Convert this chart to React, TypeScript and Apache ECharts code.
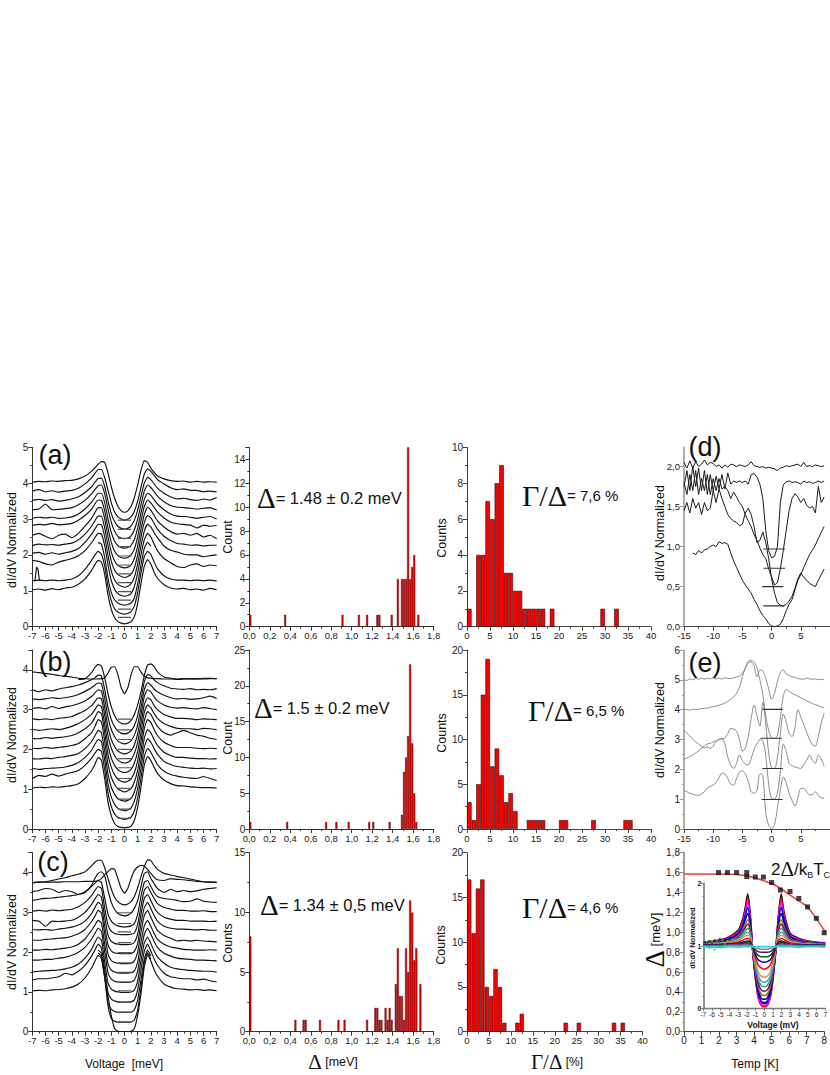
import React, { useEffect, useRef } from "react";
import * as echarts from "echarts";

// ---------- voltage grids ----------
const voltsABC = [-7,-6.5,-6,-5.5,-5,-4.5,-4,-3.5,-3,-2.5,-2.25,-2,-1.75,-1.5,-1.25,-1,-0.75,-0.5,-0.25,0,0.25,0.5,0.75,1,1.25,1.5,1.75,2,2.25,2.5,3,3.5,4,4.5,5,5.5,6,6.5,7];
const voltsDE = [-15,-14.5,-14,-13.5,-13,-12.5,-12,-11.5,-11,-10.5,-10,-9.5,-9,-8.5,-8,-7.5,-7,-6.5,-6,-5.5,-5,-4.5,-4,-3.5,-3,-2.5,-2,-1.5,-1,-0.5,0,0.5,1,1.5,2,2.5,3,3.5,4,4.5,5,5.5,6,6.5,7,7.5,8,8.5,9];
const voltsInset = [-7,-6,-5,-4,-3,-2.5,-2.2,-1.9,-1.6,-1.3,-1,-0.7,-0.35,0,0.35,0.7,1,1.3,1.6,1.95,2.2,2.5,3,4,5,6,7];
const _ = null;

// ---------- panel (a) ----------
const curvesA = [
[4.03,4.05,4.04,4.06,4.05,4.07,4.08,4.12,4.2,4.33,4.43,4.53,4.6,4.58,4.28,3.9,3.58,3.36,3.23,3.19,3.23,3.36,3.6,3.95,4.35,4.63,4.58,4.42,4.3,4.2,4.12,4.07,4.05,4.06,4.03,4.05,4.03,4.04,4.03],
[3.78,3.82,3.76,3.79,3.75,3.78,3.8,3.86,3.98,4.15,4.27,4.38,4.38,4.15,3.8,3.45,3.2,3.06,3.0,2.97,3.0,3.06,3.22,3.5,3.88,4.25,4.4,4.33,4.22,4.1,3.98,3.87,3.82,3.84,3.8,3.8,3.76,3.78,3.76],
[3.52,3.55,3.52,3.54,3.5,3.52,3.56,3.62,3.74,3.9,4.02,4.13,4.14,3.9,3.5,3.15,2.93,2.8,2.74,2.72,2.74,2.81,2.97,3.25,3.63,4.0,4.16,4.1,3.98,3.86,3.72,3.62,3.56,3.58,3.54,3.52,3.56,3.53,3.6],
[3.26,3.28,3.42,3.26,3.27,3.29,3.32,3.4,3.52,3.7,3.82,3.93,3.95,3.7,3.28,2.9,2.66,2.52,2.47,2.45,2.47,2.53,2.7,3.0,3.4,3.78,3.95,3.88,3.76,3.64,3.48,3.38,3.33,3.32,3.3,3.28,3.3,3.32,3.25],
[3.02,3.05,3.03,3.05,3.02,3.03,3.06,3.14,3.28,3.47,3.6,3.72,3.72,3.45,3.0,2.62,2.38,2.26,2.21,2.19,2.21,2.27,2.43,2.75,3.17,3.55,3.72,3.66,3.54,3.42,3.26,3.14,3.08,3.07,3.05,3.02,3.05,3.07,3.0],
[2.82,2.85,2.84,2.88,2.84,2.85,2.88,2.97,3.1,3.28,3.42,3.53,3.52,3.22,2.75,2.35,2.1,1.98,1.93,1.91,1.93,2.0,2.17,2.5,2.95,3.35,3.53,3.45,3.33,3.2,3.03,2.92,2.87,2.85,2.83,2.75,2.83,2.8,2.82],
[2.55,2.6,2.52,2.45,2.55,2.58,2.48,2.6,2.8,3.02,3.18,3.32,3.32,3.0,2.5,2.08,1.83,1.71,1.66,1.64,1.66,1.72,1.9,2.25,2.72,3.12,3.33,3.25,3.1,2.95,2.78,2.65,2.58,2.6,2.55,2.6,2.5,2.55,2.45],
[2.26,2.3,2.28,2.29,2.27,2.3,2.33,2.42,2.58,2.8,2.95,3.08,3.08,2.75,2.25,1.82,1.57,1.45,1.4,1.37,1.4,1.46,1.64,2.0,2.5,2.9,3.1,3.03,2.88,2.72,2.52,2.4,2.32,2.3,2.27,2.28,2.25,2.27,2.27],
[2.05,2.07,2.02,2.06,2.02,2.06,2.1,2.18,2.35,2.58,2.72,2.85,2.84,2.5,1.98,1.55,1.3,1.18,1.13,1.1,1.13,1.2,1.38,1.75,2.25,2.66,2.86,2.78,2.62,2.48,2.25,2.13,2.08,2.02,2.0,2.0,1.95,1.98,2.0],
[1.85,1.82,1.75,1.72,1.8,1.85,1.9,1.98,2.12,2.34,2.48,2.6,2.58,2.25,1.72,1.28,1.04,0.92,0.87,0.85,0.87,0.93,1.12,1.5,2.0,2.42,2.6,2.5,2.3,2.12,1.9,1.78,1.68,1.65,1.72,1.75,1.68,1.72,1.7],
[_,_,_,_,_,_,_,_,_,_,_,2.35,2.3,1.92,1.35,0.95,0.75,0.66,0.62,0.6,0.62,0.66,0.8,1.2,1.72,2.18,2.35,2.25,_,_,_,_,_,_,_,_,_,_,_],
[1.28,1.3,1.28,1.3,1.28,1.3,1.33,1.42,1.6,1.85,2.0,2.1,2.02,1.68,1.12,0.72,0.5,0.41,0.37,0.35,0.37,0.42,0.58,0.95,1.5,1.95,2.1,2.02,1.8,1.62,1.42,1.33,1.3,1.3,1.28,1.3,1.28,1.3,1.27],
[1.03,1.05,1.02,1.06,1.03,1.08,1.1,1.18,1.33,1.57,1.73,1.85,1.8,1.45,0.88,0.48,0.25,0.14,0.1,0.08,0.1,0.14,0.28,0.65,1.2,1.68,1.87,1.75,1.52,1.35,1.17,1.08,1.05,1.07,1.03,1.05,1.02,1.07,1.03],
];
const gapLevelsA = [2.97,2.71,2.46,2.23,1.97,1.72,1.47,1.23,0.98,0.74,0.49,0.26];
const spikeVoltsA = [-6.8,-6.68,-6.58,-6.46];
const spikeLevelsA = [1.28,1.66,1.62,1.29];

// ---------- panel (b) ----------
const curvesB = [
[3.95,3.93,3.91,3.89,3.86,3.84,3.82,3.79,3.78,3.77,3.77,3.77,3.78,3.8,3.92,4.07,4.08,3.88,3.55,3.4,3.55,3.88,4.08,4.08,3.95,3.84,3.8,3.79,3.78,3.78,3.77,3.77,3.76,3.77,3.78,3.77,3.79,3.79,3.78],
[_,_,_,_,_,_,_,3.76,3.78,3.93,4.06,4.14,4.1,3.8,3.4,3.07,2.85,2.72,2.66,2.64,2.66,2.73,2.88,3.12,3.45,3.85,4.12,4.15,4.08,3.95,3.82,3.79,3.77,3.78,3.77,3.78,3.77,3.78,3.78],
[3.5,3.45,3.5,3.47,3.52,3.55,3.58,3.62,3.68,3.75,3.8,3.87,3.85,3.5,3.05,2.75,2.57,2.46,2.41,2.39,2.41,2.47,2.6,2.85,3.25,3.7,3.88,3.85,3.75,3.68,3.6,3.54,3.52,3.51,3.53,3.5,3.51,3.5,3.53],
[3.27,3.25,3.27,3.3,3.28,3.3,3.33,3.38,3.46,3.55,3.62,3.67,3.65,3.28,2.8,2.5,2.32,2.21,2.16,2.14,2.16,2.22,2.36,2.62,3.05,3.5,3.68,3.62,3.52,3.45,3.36,3.3,3.27,3.28,3.26,3.27,3.3,3.34,3.28],
[3.03,3.05,3.02,3.08,3.03,3.07,3.1,3.15,3.22,3.33,3.42,3.5,3.47,3.05,2.55,2.25,2.07,1.96,1.91,1.89,1.91,1.97,2.12,2.4,2.85,3.33,3.5,3.45,3.32,3.22,3.12,3.06,3.04,3.05,3.03,3.02,3.05,3.03,3.0],
[2.77,2.75,2.77,2.75,2.78,2.8,2.83,2.9,2.98,3.1,3.2,3.3,3.27,2.85,2.33,2.03,1.84,1.73,1.68,1.66,1.68,1.74,1.9,2.18,2.65,3.12,3.3,3.25,3.1,3.0,2.88,2.82,2.78,2.78,2.77,2.75,2.77,2.76,2.75],
[2.5,2.48,2.5,2.52,2.5,2.53,2.58,2.65,2.75,2.88,3.0,3.12,3.08,2.62,2.1,1.78,1.6,1.49,1.44,1.42,1.44,1.5,1.66,1.95,2.42,2.93,3.12,3.05,2.9,2.78,2.65,2.58,2.53,2.52,2.52,2.5,2.53,2.52,2.5],
[2.28,2.27,2.3,2.28,2.3,2.32,2.35,2.42,2.52,2.66,2.8,2.95,2.9,2.42,1.87,1.55,1.36,1.25,1.2,1.18,1.2,1.26,1.42,1.72,2.2,2.72,2.95,2.88,2.72,2.58,2.42,2.36,2.42,2.48,2.42,2.36,2.33,2.28,2.25],
[2.03,2.02,2.05,2.03,2.05,2.07,2.1,2.15,2.27,2.42,2.57,2.75,2.7,2.2,1.63,1.3,1.12,1.01,0.96,0.93,0.96,1.02,1.18,1.48,1.98,2.52,2.75,2.68,2.5,2.35,2.18,2.1,2.05,2.05,2.05,2.03,2.02,2.03,2.02],
[1.77,1.76,1.78,1.77,1.8,1.82,1.85,1.9,2.02,2.2,2.34,2.48,2.42,1.95,1.38,1.05,0.87,0.76,0.72,0.7,0.72,0.77,0.93,1.25,1.75,2.28,2.5,2.42,2.25,2.1,1.93,1.85,1.8,1.8,1.78,1.77,1.77,1.76,1.77],
[1.52,1.5,1.52,1.53,1.54,1.56,1.6,1.67,1.8,1.98,2.13,2.25,2.2,1.72,1.13,0.8,0.62,0.52,0.48,0.46,0.48,0.53,0.7,1.02,1.52,2.05,2.27,2.18,2.02,1.88,1.7,1.62,1.57,1.55,1.53,1.52,1.53,1.51,1.52],
[1.27,1.35,1.32,1.38,1.33,1.38,1.42,1.47,1.6,1.78,1.9,2.0,1.95,1.48,0.9,0.56,0.38,0.29,0.26,0.24,0.26,0.3,0.46,0.78,1.28,1.82,2.02,1.93,1.77,1.62,1.45,1.37,1.33,1.3,1.28,1.27,1.32,1.27,1.22],
[1.03,1.05,1.04,1.06,1.05,1.07,1.09,1.14,1.27,1.47,1.62,1.8,1.73,1.25,0.67,0.33,0.14,0.06,0.04,0.03,0.04,0.07,0.22,0.55,1.05,1.6,1.82,1.72,1.55,1.4,1.23,1.14,1.09,1.08,1.06,1.05,1.04,1.04,1.03],
];
const gapLevelsB = [2.76,2.49,2.25,2.0,1.77,1.54,1.27,1.02,0.75,0.5,0.27];

// ---------- panel (c) ----------
const curvesC = [
[3.74,3.76,3.77,3.8,3.84,3.87,3.92,3.96,4.02,4.17,4.26,4.31,4.31,4.12,3.85,3.58,3.38,3.27,3.21,3.19,3.21,3.27,3.4,3.62,3.9,4.15,4.32,4.3,4.18,4.08,3.98,3.94,3.9,3.87,3.84,3.8,3.77,3.76,3.75],
[3.75,3.76,3.76,3.76,3.76,3.77,3.77,3.77,3.78,3.78,3.78,3.8,3.85,3.95,4.02,4.1,4.08,3.85,3.6,3.48,3.6,3.85,4.05,4.14,4.18,4.16,4.08,3.98,3.88,3.82,3.8,3.85,3.83,3.82,3.8,3.78,3.77,3.76,3.76],
[3.52,3.55,3.6,3.58,3.5,3.55,3.52,3.45,3.5,3.68,3.85,3.98,4.02,3.92,3.55,3.25,3.07,2.97,2.93,2.91,2.93,2.98,3.1,3.3,3.65,3.98,4.02,3.85,3.72,3.6,3.5,3.58,3.52,3.55,3.52,3.54,3.58,3.6,3.62],
[3.3,3.33,3.35,3.36,3.38,3.4,3.42,3.45,3.52,3.65,3.73,3.8,3.75,3.35,2.95,2.78,2.7,2.66,2.64,2.63,2.64,2.66,2.72,2.95,3.4,3.75,3.8,3.65,3.5,3.4,3.35,3.33,3.3,3.27,3.28,3.34,3.28,3.26,3.25],
[3.03,3.05,3.03,3.06,3.04,3.06,3.08,3.14,3.25,3.42,3.55,3.65,3.6,3.1,2.68,2.52,2.47,2.45,2.44,2.44,2.44,2.45,2.48,2.7,3.15,3.55,3.65,3.5,3.35,3.22,3.12,3.08,3.05,3.05,3.03,3.03,3.04,3.02,3.02],
[2.8,2.78,2.65,2.78,2.77,2.78,2.8,2.88,3.0,3.2,3.33,3.45,3.38,2.88,2.42,2.27,2.22,2.2,2.19,2.19,2.19,2.2,2.25,2.45,2.95,3.35,3.45,3.3,3.12,3.0,2.88,2.83,2.8,2.8,2.78,2.78,2.78,2.77,2.78],
[2.57,2.56,2.57,2.55,2.58,2.6,2.63,2.68,2.78,2.97,3.12,3.25,3.18,2.65,2.18,2.03,1.98,1.97,1.96,1.96,1.96,1.97,2.02,2.22,2.72,3.12,3.25,3.1,2.92,2.78,2.65,2.6,2.58,2.58,2.57,2.56,2.57,2.55,2.55],
[2.3,2.3,2.32,2.33,2.35,2.36,2.4,2.46,2.57,2.77,2.9,3.05,2.98,2.45,1.95,1.79,1.74,1.72,1.71,1.71,1.71,1.72,1.78,2.0,2.5,2.92,3.05,2.88,2.7,2.55,2.42,2.35,2.28,2.3,2.28,2.3,2.28,2.27,2.26],
[2.05,2.05,2.07,2.06,2.08,2.1,2.13,2.2,2.33,2.55,2.68,2.8,2.73,2.2,1.7,1.55,1.5,1.48,1.47,1.47,1.47,1.48,1.53,1.75,2.25,2.66,2.8,2.65,2.47,2.32,2.2,2.13,2.1,2.07,2.06,2.05,2.05,2.06,2.05],
[1.8,1.8,1.82,1.82,1.85,1.87,1.92,2.0,2.12,2.33,2.47,2.6,2.52,2.0,1.48,1.32,1.27,1.25,1.24,1.24,1.24,1.25,1.3,1.52,2.02,2.45,2.6,2.45,2.27,2.12,1.97,1.9,1.85,1.83,1.82,1.8,1.8,1.79,1.78],
[1.5,1.52,1.53,1.54,1.55,1.58,1.62,1.7,1.85,2.07,2.24,2.38,2.3,1.75,1.22,1.07,1.02,1.0,0.99,0.99,0.99,1.0,1.05,1.28,1.78,2.23,2.38,2.22,2.03,1.88,1.72,1.62,1.58,1.56,1.54,1.53,1.52,1.52,1.5],
[1.3,1.33,1.33,1.35,1.38,1.47,1.43,1.52,1.67,1.9,2.05,2.2,2.1,1.55,0.98,0.82,0.77,0.75,0.74,0.74,0.74,0.75,0.8,1.05,1.55,2.02,2.2,2.03,1.83,1.67,1.47,1.38,1.35,1.33,1.33,1.3,1.32,1.28,1.25],
[_,_,_,_,_,_,_,_,_,_,_,2.05,1.97,1.42,0.72,0.56,0.51,0.49,0.49,0.49,0.49,0.49,0.55,0.8,1.3,1.82,2.05,1.9,_,_,_,_,_,_,_,_,_,_,_],
[_,_,_,_,_,_,_,_,_,_,_,1.98,1.9,1.35,0.65,0.33,0.26,0.24,0.24,0.24,0.24,0.24,0.3,0.55,1.1,1.72,1.98,1.82,_,_,_,_,_,_,_,_,_,_,_],
[1.03,1.04,1.03,1.05,1.06,1.08,1.12,1.2,1.35,1.6,1.77,1.92,1.84,1.35,0.88,0.4,0.08,0.01,0,0,0,0.01,0.08,0.42,0.95,1.62,1.93,1.78,1.56,1.4,1.2,1.12,1.08,1.07,1.05,1.06,1.04,1.05,1.03],
];
const gapLevelsC = [2.99,2.72,2.51,2.24,1.99,1.73,1.49,1.25,1.03,0.75,0.49,0.24];

// ---------- histograms of the gap (bin centre, count) ----------
const deltaA = [[0.01,1],[0.35,1],[0.91,1],[1.07,1],[1.15,1],[1.25,1],[1.27,1],[1.39,1],[1.45,4],[1.49,4],[1.51,4],[1.53,4],[1.55,15],[1.57,4],[1.59,5],[1.61,6],[1.65,1]];
const deltaB = [[0.01,1],[0.37,1],[0.75,1],[0.85,1],[0.97,1],[1.17,1],[1.21,1],[1.37,1],[1.49,2],[1.51,8],[1.53,10],[1.55,13],[1.57,23],[1.59,12],[1.61,5],[1.63,1]];
const deltaC = [[0.01,8],[0.45,1],[0.53,1],[0.55,1],[0.69,1],[0.87,1],[0.93,1],[1.15,1],[1.23,2],[1.25,2],[1.27,1],[1.29,1],[1.33,2],[1.35,1],[1.37,2],[1.39,1],[1.43,4],[1.45,7],[1.47,3],[1.49,3],[1.51,1],[1.53,7],[1.55,5],[1.57,11],[1.59,10],[1.61,6],[1.63,7],[1.67,4]];

// ---------- histograms of Gamma/Delta ----------
const gammaA = [[0.5,1],[2.5,4],[3.5,4],[4.5,7],[5.5,6],[6.5,8],[7.5,9],[8.5,3],[9.5,3],[10.5,2],[11.5,2],[12.5,1],[13.5,1],[14.5,1],[15.5,1],[16.5,1],[18.5,1],[29.5,1],[32.5,1]];
const gammaB = [[0.5,3],[1.5,1],[2.5,5],[3.5,15],[4.5,19],[5.5,7],[6.5,9],[7.5,6],[8.5,3],[9.5,4],[10.5,2],[13.5,1],[14.5,1],[15.5,1],[16.5,1],[20.5,1],[21.5,1],[27.5,1],[34.5,1],[35.5,1]];
const gammaC = [[0.5,17],[1.5,11],[2.5,16],[3.5,17],[4.5,5],[5.5,4],[6.5,7],[7.5,5],[8.5,1],[11.5,1],[12.5,2],[22.5,1],[25.5,1],[33.5,1],[35.5,1]];

// ---------- panel (d) ----------
const curvesD = [
[2.05,1.98,2.07,1.98,2.06,2.0,2.03,2.08,2.02,2.05,2.04,2.0,2.02,1.98,2.02,1.99,2.03,2.02,2.0,2.02,2.01,2.0,2.02,2.06,2.01,2.0,1.99,2.0,1.98,1.99,1.98,1.97,1.95,1.98,1.99,2.01,2.0,2.01,2.02,2.03,2.0,2.05,2.0,2.01,2.0,2.02,2.01,2.0,2.01],
[1.75,1.95,1.7,2.0,1.75,1.98,1.7,1.95,1.65,1.9,1.7,1.88,1.72,1.9,1.72,1.92,1.78,1.82,1.8,1.82,1.8,1.82,1.78,1.9,1.91,1.87,1.78,1.6,1.2,0.95,0.86,0.88,1.0,1.55,1.77,1.81,1.82,1.8,1.81,1.8,1.78,1.82,1.8,1.81,1.79,1.8,1.82,1.8,1.82],
[1.8,1.65,1.9,1.7,1.95,1.65,1.85,1.7,1.9,1.65,1.85,1.7,1.85,1.72,1.75,1.7,1.6,1.68,1.62,1.55,1.5,1.4,1.32,1.25,1.15,1.08,0.98,0.9,0.85,0.72,0.62,0.52,0.55,0.72,0.95,1.2,1.45,1.6,1.66,1.62,1.55,1.6,1.52,1.48,1.5,1.42,1.75,1.55,1.62],
[1.45,1.55,1.42,1.6,1.48,1.55,1.4,1.55,1.45,1.48,1.7,1.55,1.72,1.6,1.5,1.4,1.35,1.32,1.3,1.26,1.28,1.42,1.48,1.4,1.25,1.05,1.08,1.18,1.05,0.85,0.6,0.42,0.3,0.27,0.26,0.28,0.32,0.38,0.48,0.6,0.67,0.62,0.58,0.54,0.52,0.5,0.58,0.65,0.72],
[_,_,_,0.92,0.9,0.95,0.92,0.96,0.97,1.0,1.02,1.0,1.06,1.04,1.05,1.03,0.92,0.82,0.74,0.66,0.58,0.52,0.47,0.42,0.34,0.28,0.2,0.14,0.1,0.04,0.01,0,0.01,0.03,0.1,0.2,0.28,0.34,0.46,0.58,0.65,0.74,0.82,0.9,0.96,1.02,1.1,1.18,1.25],
];
const gapBarsD = [[-1.4,2.3,0.97],[-1.4,2.3,0.73],[-1.6,2.0,0.5],[-1.4,2.2,0.26]];

// ---------- panel (e) ----------
const curvesE = [
[5.0,4.98,5.03,5.0,5.05,5.02,5.06,5.02,5.05,5.03,5.07,5.03,5.06,5.03,5.07,5.05,5.04,5.07,5.1,5.12,5.22,5.38,5.58,5.6,5.45,5.1,5.33,5.3,5.05,4.7,4.35,4.55,4.95,5.25,5.33,5.2,5.15,5.1,5.08,5.04,5.03,5.02,5.05,5.03,5.02,5.03,5.01,5.02,5.0],
[4.03,4.0,3.98,4.02,4.0,4.02,4.03,4.05,4.05,4.08,4.1,4.12,4.15,4.18,4.22,4.28,4.35,4.42,4.55,4.75,5.1,5.4,5.62,5.66,5.6,5.4,5.0,4.5,3.8,3.3,3.05,3.03,3.15,3.75,4.45,4.68,4.62,4.55,4.5,4.45,4.4,4.35,4.3,4.25,4.2,4.17,4.13,4.09,4.06],
[3.3,3.22,3.12,3.02,2.92,2.85,2.77,2.72,2.75,2.7,2.78,2.95,3.0,3.02,3.05,3.2,3.37,3.35,3.28,3.0,2.6,2.72,3.1,3.7,4.15,3.8,3.45,4.25,3.5,2.55,2.05,2.03,2.4,3.2,3.85,3.6,3.2,3.1,3.4,4.0,3.75,3.5,3.25,3.0,2.82,2.78,3.1,3.55,3.88],
[2.33,2.38,2.42,2.48,2.55,2.62,2.7,2.78,2.85,2.87,2.92,2.95,3.0,3.04,2.85,2.4,2.15,2.03,2.2,2.48,2.3,2.18,2.15,2.35,2.68,2.85,3.0,2.95,2.45,1.5,1.02,1.0,1.2,1.95,2.85,2.6,2.2,2.12,2.08,2.05,2.03,2.15,2.3,2.48,2.3,2.2,2.48,2.35,2.1],
[1.3,1.25,1.2,1.17,1.14,1.13,1.18,1.25,1.38,1.42,1.48,1.55,1.72,1.88,1.85,1.7,1.5,1.47,1.7,1.9,1.95,1.85,1.6,1.25,1.2,1.3,1.85,1.8,0.55,0.12,0.01,0.15,0.7,1.3,1.75,1.55,1.2,0.95,0.77,1.05,1.36,1.36,1.25,1.14,1.16,1.25,1.12,1.05,1.03],
];
const gapBarsE = [[-1.6,1.9,4.01],[-1.9,1.75,3.04],[-1.6,1.9,2.03],[-1.75,1.9,0.99]];

// ---------- panel (f) ----------
const fitTemp = [0,1,2,3,4,4.5,5,5.5,6,6.5,7,7.5,8,8.5];
const fitGap = [1.585,1.585,1.585,1.58,1.55,1.52,1.49,1.44,1.38,1.32,1.26,1.15,1.02,0.9];
const pointTemp = [1.97,2.48,3,3.58,3.58,4.07,4.53,5,5.5,6.05,6.55,7.05,7.55,8];
const pointGap = [1.6,1.6,1.6,1.6,1.56,1.555,1.555,1.5,1.425,1.41,1.34,1.255,1.14,0.995];

const insetColors = ["#000000","#ff0000","#ff00ff","#0000ff","#000080","#808000","#800080","#2fae5a","#4aa3c8","#e0935a","#ff0000","#000080","#006400","#5a0a8c","#888888","#2ed0d0"];
const insetCurves = [
[1.06,1.08,1.1,1.15,1.25,1.42,1.6,1.83,1.5,0.9,0.5,0.22,0.1,0.08,0.1,0.22,0.5,0.9,1.45,1.83,1.6,1.4,1.2,1.12,1.08,1.06,1.05],
[1.05,1.07,1.09,1.14,1.23,1.38,1.55,1.76,1.46,0.87,0.46,0.17,0.05,0.03,0.05,0.17,0.46,0.87,1.42,1.76,1.55,1.36,1.18,1.11,1.07,1.05,1.04],
[1.05,1.07,1.09,1.13,1.22,1.36,1.52,1.7,1.42,0.88,0.47,0.19,0.07,0.05,0.07,0.19,0.47,0.88,1.38,1.7,1.52,1.34,1.17,1.1,1.07,1.05,1.04],
[1.04,1.06,1.08,1.12,1.2,1.33,1.47,1.62,1.38,0.89,0.5,0.24,0.12,0.1,0.12,0.24,0.5,0.89,1.34,1.62,1.47,1.31,1.15,1.09,1.06,1.05,1.04],
[1.04,1.05,1.07,1.11,1.18,1.29,1.41,1.52,1.33,0.9,0.54,0.3,0.17,0.15,0.17,0.3,0.54,0.9,1.3,1.52,1.41,1.27,1.14,1.08,1.05,1.04,1.03],
[1.03,1.05,1.06,1.09,1.16,1.25,1.34,1.42,1.28,0.91,0.58,0.35,0.23,0.21,0.23,0.35,0.58,0.91,1.26,1.42,1.34,1.23,1.12,1.07,1.05,1.04,1.03],
[1.03,1.04,1.06,1.08,1.14,1.22,1.29,1.35,1.24,0.92,0.62,0.41,0.3,0.28,0.3,0.41,0.62,0.92,1.22,1.35,1.29,1.2,1.11,1.06,1.04,1.03,1.02],
[1.03,1.04,1.05,1.07,1.12,1.19,1.24,1.28,1.2,0.93,0.66,0.47,0.37,0.35,0.37,0.47,0.66,0.93,1.19,1.28,1.24,1.17,1.09,1.05,1.03,1.03,1.02],
[1.02,1.03,1.04,1.06,1.1,1.16,1.2,1.22,1.16,0.94,0.7,0.53,0.44,0.42,0.44,0.53,0.7,0.94,1.15,1.22,1.2,1.14,1.08,1.05,1.03,1.02,1.02],
[1.02,1.03,1.04,1.05,1.08,1.13,1.16,1.17,1.13,0.95,0.75,0.59,0.52,0.5,0.52,0.59,0.75,0.95,1.12,1.17,1.16,1.11,1.06,1.04,1.03,1.02,1.02],
[1.02,1.02,1.03,1.04,1.06,1.09,1.11,1.12,1.09,0.96,0.81,0.7,0.65,0.63,0.65,0.7,0.81,0.96,1.08,1.12,1.11,1.08,1.05,1.03,1.02,1.02,1.01],
[1.01,1.02,1.02,1.03,1.04,1.06,1.07,1.08,1.06,0.97,0.86,0.78,0.75,0.74,0.75,0.78,0.86,0.97,1.05,1.08,1.07,1.05,1.03,1.02,1.02,1.01,1.01],
[1.01,1.01,1.02,1.02,1.03,1.04,1.05,1.05,1.04,0.98,0.9,0.85,0.83,0.83,0.83,0.85,0.9,0.98,1.03,1.05,1.05,1.03,1.02,1.02,1.01,1.01,1.01],
[1.01,1.01,1.01,1.02,1.02,1.03,1.03,1.03,1.02,0.99,0.94,0.91,0.9,0.9,0.9,0.91,0.94,0.99,1.02,1.03,1.03,1.02,1.02,1.01,1.01,1.01,1.0],
[1,1,1,1.01,1.01,1.01,1.01,1.01,1.01,0.99,0.97,0.96,0.95,0.95,0.95,0.96,0.97,0.99,1.01,1.01,1.01,1.01,1.01,1,1,1,1],
[0.99,0.98,0.98,0.99,0.98,0.99,0.99,0.99,0.99,0.99,0.99,0.99,0.99,0.99,0.99,0.99,0.99,0.99,0.99,0.99,0.99,0.99,0.99,0.98,0.99,0.99,0.98],
];
const insetNoiseX = [-6.9,-6.6,-6.3,-6,-5.7,-5.4,-5.1,-4.8,-4.5,-4.2,-3.9,-3.6,-3.3];
const insetNoiseGreen = [0.96,1.07,0.97,1.08,0.94,1.06,0.98,1.09,1.03,1.08,1.06,1.1,1.1];
const insetNoiseBlack = [1.06,1.02,1.09,1.03,1.11,1.05,1.13,1.07,1.12,1.09,1.14,1.13,1.17];

// ---------- tick labels ----------
const commaLabels = ["0,0","0,2","0,4","0,6","0,8","1,0","1,2","1,4","1,6","1,8","2,0"];

// ---------- layout ----------
const FONT = "'Liberation Sans', Arial, sans-serif";
const SERIF = "'Liberation Serif', serif";
const rowTop = [447.3, 650, 852.7];
const rowH = [179.4, 179, 179];
const comma = (v: number) => commaLabels[Math.round(v * 5)] ?? String(v);

function axis(gi: number, o: any) {
  const color = o.color ?? "#333";
  const lw = o.lw ?? 1;
  return {
    gridIndex: gi,
    type: "value",
    min: o.min,
    max: o.max,
    interval: o.interval,
    axisLine: { show: true, onZero: false, lineStyle: { color, width: lw } },
    axisTick: { show: true, length: o.tickLen ?? 4, lineStyle: { color, width: o.tickW ?? 1 } },
    minorTick: { show: o.minor !== false, splitNumber: o.split ?? 2, length: o.minorLen ?? 2, lineStyle: { color, width: 1 } },
    splitLine: { show: false },
    minorSplitLine: { show: false },
    axisLabel: {
      show: o.labels !== false,
      fontFamily: FONT,
      fontSize: o.fs ?? 10,
      fontWeight: o.fw ?? "normal",
      color: "#1a1a1a",
      margin: o.margin ?? 4,
      showMaxLabel: o.showMax ?? true,
      formatter: o.fmt,
    },
  };
}
const lineS = (gi: number, xs: number[], ys: (number | null)[], color: string, width: number, smooth: number | boolean, z = 2) => ({
  type: "line",
  xAxisIndex: gi,
  yAxisIndex: gi,
  data: xs.map((x, i) => [x, ys[i]]),
  symbol: "none",
  showSymbol: false,
  silent: true,
  smooth,
  z,
  lineStyle: { color, width },
});
const barS = (gi: number, data: number[][], w: number, fill: string, border: string, bw: number) => ({
  type: "bar",
  xAxisIndex: gi,
  yAxisIndex: gi,
  data,
  barWidth: w,
  silent: true,
  itemStyle: { color: fill, borderColor: border, borderWidth: bw },
});
const txt = (x: number, y: number, text: string, fontSize: number, extra: any = {}) => ({
  type: "text",
  x,
  y,
  rotation: extra.rot ?? 0,
  z: 50,
  silent: true,
  style: {
    text,
    fill: "#111",
    fontSize,
    fontFamily: extra.ff ?? FONT,
    fontWeight: extra.fw ?? "normal",
    align: extra.align ?? "center",
    verticalAlign: "middle",
    rich: extra.rich,
  },
});
const big = (s: number) => ({ fontSize: s, fontFamily: SERIF, fill: "#111" });
const small = (s: number) => ({ fontSize: s, fontFamily: FONT, fill: "#111" });
const ROT = Math.PI / 2;

function buildOption() {
  const grids: any[] = [];
  const xAxes: any[] = [];
  const yAxes: any[] = [];
  const series: any[] = [];
  const addGrid = (l: number, t: number, w: number, h: number) => {
    grids.push({ left: l, top: t, width: w, height: h, containLabel: false });
    return grids.length - 1;
  };

  // left column
  const curveSets = [curvesA, curvesB, curvesC];
  const gapSets = [gapLevelsA, gapLevelsB, gapLevelsC];
  const yMaxes = [5, 4.5, 4.5];
  curveSets.forEach((set, r) => {
    const g = addGrid(32.3, rowTop[r], 184.4, rowH[r]);
    xAxes.push(axis(g, { min: -7, max: 7, interval: 1, fs: 9.5 }));
    yAxes.push(axis(g, { min: 0, max: yMaxes[r], interval: 1, fs: 10, showMax: r === 0 }));
    set.forEach((ys) => series.push(lineS(g, voltsABC, ys, "#111", 1.15, 0.15)));
    gapSets[r].forEach((lv) => series.push(lineS(g, [-0.5, 0.5], [lv, lv], "#555", 1.2, false)));
    if (r === 0) series.push(lineS(g, spikeVoltsA, spikeLevelsA, "#111", 1.15, false));
  });

  // delta histograms
  const deltaSets = [deltaA, deltaB, deltaC];
  const deltaMax = [15, 25, 15];
  const deltaInt = [2, 5, 5];
  deltaSets.forEach((d, r) => {
    const g = addGrid(249.3, rowTop[r], 184.4, rowH[r]);
    xAxes.push(axis(g, { min: 0, max: 1.8, interval: 0.2, fs: 9.5, fmt: comma }));
    yAxes.push(axis(g, { min: 0, max: deltaMax[r], interval: deltaInt[r], fs: 10, showMax: r !== 0 }));
    series.push(barS(g, d, 2.2, "#e00000", "rgba(70,0,0,0.65)", 0.6));
  });

  // gamma histograms
  const gammaSets = [gammaA, gammaB, gammaC];
  const gammaMax = [10, 20, 20];
  const gammaInt = [2, 5, 5];
  const gammaW = [184, 184, 175.5];
  gammaSets.forEach((d, r) => {
    const g = addGrid(467, rowTop[r], gammaW[r], rowH[r]);
    xAxes.push(axis(g, { min: 0, max: 40, interval: 5, fs: 9.5, color: "#444" }));
    yAxes.push(axis(g, { min: 0, max: gammaMax[r], interval: gammaInt[r], fs: 10, color: "#444" }));
    series.push(barS(g, d, r === 2 ? 4.3 : 4.6, "#f80000", "#2a1010", 0.6));
  });

  // panel d
  const gd = addGrid(684, rowTop[0], 153.3, rowH[0]);
  xAxes.push(axis(gd, { min: -15, max: 10, interval: 5, fs: 9.5, color: "#444", showMax: false }));
  yAxes.push(axis(gd, { min: 0, max: 2.24, interval: 0.5, fs: 9.5, color: "#999", lw: 1.6, showMax: false, fmt: (v: number) => v.toFixed(1).replace(".", ","), minor: false }));
  curvesD.forEach((ys) => series.push(lineS(gd, voltsDE, ys, "#1a1a1a", 1, false)));
  gapBarsD.forEach((b) => series.push(lineS(gd, [b[0], b[1]], [b[2], b[2]], "#333", 1.1, false)));

  // panel e
  const ge = addGrid(684, rowTop[1], 153.3, rowH[1]);
  xAxes.push(axis(ge, { min: -15, max: 10, interval: 5, fs: 9.5, color: "#444", showMax: false }));
  yAxes.push(axis(ge, { min: 0, max: 6, interval: 1, fs: 10, color: "#999", lw: 1.6 }));
  curvesE.forEach((ys) => series.push(lineS(ge, voltsDE, ys, "#808080", 0.9, 0.3)));
  gapBarsE.forEach((b) => series.push(lineS(ge, [b[0], b[1]], [b[2], b[2]], "#333", 1.1, false)));

  // panel f
  const gf = addGrid(684, rowTop[2], 146, rowH[2]);
  xAxes.push(axis(gf, { min: 0, max: 8, interval: 1, fs: 10, color: "#444" }));
  yAxes.push(axis(gf, { min: 0, max: 1.8, interval: 0.2, fs: 10, color: "#888", lw: 1.6, fmt: comma }));
  series.push(lineS(gf, fitTemp, fitGap, "#f03a3a", 1.5, 0.3));
  series.push({
    type: "scatter",
    xAxisIndex: gf,
    yAxisIndex: gf,
    data: pointTemp.map((t, i) => [t, pointGap[i]]),
    symbol: "rect",
    symbolSize: 5,
    silent: true,
    z: 3,
    itemStyle: { color: "#111" },
  });

  // inset
  const gi = addGrid(703.3, 883.3, 133.4, 125.4);
  xAxes.push(axis(gi, { min: -7, max: 7, interval: 1, fs: 6.5, color: "#777", lw: 1.4, tickLen: 2, minor: false, margin: 2, fw: "normal" }));
  yAxes.push(axis(gi, { min: 0, max: 2, interval: 1, fs: 7, fw: "bold", color: "#777", lw: 1.6, tickLen: 2, minorLen: 1, split: 5, margin: 2 }));
  insetCurves.forEach((ys, i) => series.push(lineS(gi, voltsInset, ys, insetColors[i], i === 15 ? 1.8 : 1.5, 0.3, 5)));
  series.push({ type: "scatter", xAxisIndex: gi, yAxisIndex: gi, data: insetNoiseX.map((x, i) => [x, insetNoiseGreen[i]]), symbol: "circle", symbolSize: 2, silent: true, z: 6, itemStyle: { color: "#2fcf4a" } });
  series.push(lineS(gi, insetNoiseX, insetNoiseBlack, "#222", 0.8, false, 6));

  const graphic: any[] = [
    txt(55, 455, "(a)", 27),
    txt(55, 662, "(b)", 27),
    txt(53, 862, "(c)", 27),
    txt(705, 447, "(d)", 27),
    txt(705, 663, "(e)", 27),
    txt(12, 540, "dI/dV Normalized", 12.5, { rot: ROT }),
    txt(12, 735, "dI/dV Normalized", 12.5, { rot: ROT }),
    txt(12, 942, "dI/dV Normalized", 12.5, { rot: ROT }),
    txt(660, 533, "dI/dV Normalized", 12.5, { rot: ROT }),
    txt(660, 730, "dI/dV Normalized", 12.5, { rot: ROT }),
    txt(228, 537, "Count", 12.5, { rot: ROT }),
    txt(228, 738, "Count", 12.5, { rot: ROT }),
    txt(228, 943, "Counts", 12.5, { rot: ROT }),
    txt(442, 538, "Counts", 12.5, { rot: ROT }),
    txt(442, 733, "Counts", 12.5, { rot: ROT }),
    txt(441, 945, "Counts", 12.5, { rot: ROT }),
    txt(124, 1064, "Voltage  [meV]", 12),
    txt(333, 1062, "{a|Δ}{b| [meV]}", 12, { rich: { a: big(21), b: small(12.5) } }),
    txt(557, 1062, "{a|Γ/Δ}{b| [%]}", 12, { rich: { a: big(21), b: small(12) } }),
    txt(755, 1064, "Temp [K]", 12),
    txt(257, 498, "{a|Δ}{b|= 1.48 ± 0.2 meV}", 17, { align: "left", rich: { a: big(29), b: small(16.5) } }),
    txt(254, 708, "{a|Δ}{b|= 1.5 ± 0.2 meV}", 17, { align: "left", rich: { a: big(29), b: small(16.5) } }),
    txt(260, 905, "{a|Δ}{b|= 1.34 ± 0,5 meV}", 17, { align: "left", rich: { a: big(29), b: small(16.5) } }),
    txt(522, 495, "{a|Γ/Δ}{b|= 7,6 %}", 16, { align: "left", rich: { a: big(30), b: small(15) } }),
    txt(528, 710, "{a|Γ/Δ}{b|= 6,5 %}", 16, { align: "left", rich: { a: big(30), b: small(15) } }),
    txt(522, 907, "{a|Γ/Δ}{b|= 4,6 %}", 16, { align: "left", rich: { a: big(30), b: small(15) } }),
    txt(655, 940, "{a|Δ}{b| [meV]}", 13, { rot: ROT, rich: { a: big(27), b: small(13) } }),
    txt(771, 869, "{a|2}{c|Δ}{a|/k}{s|B}{a|T}{s|C}", 17, { align: "left", rich: { a: small(17), c: big(21), s: { fontSize: 9, fontFamily: FONT, fill: "#111", verticalAlign: "bottom", lineHeight: 21 } } }),
    txt(773, 1025, "Voltage (mV)", 8.5, { fw: "bold" }),
    txt(692, 938, "dI:dV Normalized", 7.5, { rot: ROT, fw: "bold" }),
  ];

  return {
    animation: false,
    backgroundColor: "#ffffff",
    grid: grids,
    xAxis: xAxes,
    yAxis: yAxes,
    series,
    graphic,
  };
}

export default function App() {
  const ref = useRef<HTMLDivElement>(null);
  useEffect(() => {
    const chart = echarts.init(ref.current!, undefined, { renderer: "svg" });
    chart.setOption(buildOption() as any);
    return () => chart.dispose();
  }, []);
  return <div ref={ref} style={{ position: "absolute", left: 0, top: 0, width: 830, height: 1075, overflow: "hidden" }} />;
}
